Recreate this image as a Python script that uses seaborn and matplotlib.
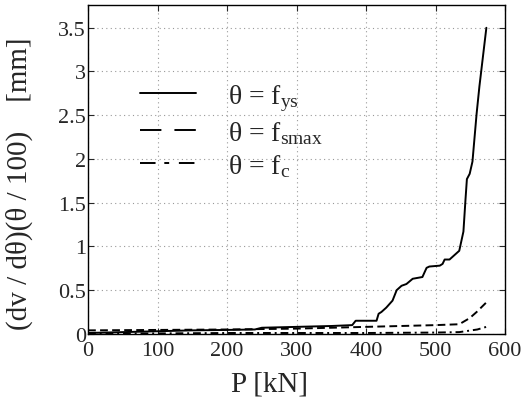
import numpy as np
import pandas as pd
import seaborn as sns
import matplotlib
matplotlib.use("Agg")
import matplotlib.pyplot as plt
from matplotlib.lines import Line2D

# data
P_ys = [0, 50, 100, 150, 200, 240, 250, 300, 350, 380, 385, 415, 418, 422, 429, 438, 444, 451, 458, 467,
        481, 487, 491, 506, 510, 513, 520, 534, 540, 543, 545, 549, 553, 559, 563, 573]
v_ys = [0.01, 0.02, 0.03, 0.04, 0.045, 0.05, 0.07, 0.08, 0.09, 0.10, 0.15, 0.15, 0.23, 0.25, 0.30, 0.38,
        0.50, 0.55, 0.57, 0.63, 0.65, 0.755, 0.77, 0.78, 0.80, 0.85, 0.85, 0.95, 1.17, 1.54, 1.77, 1.83,
        1.97, 2.52, 2.83, 3.50]
P_smax = [0, 100, 200, 300, 400, 500, 534, 549, 559, 573]
v_smax = [0.04, 0.045, 0.05, 0.06, 0.08, 0.10, 0.11, 0.18, 0.25, 0.36]
P_c = [0, 100, 200, 300, 400, 500, 534, 560, 573]
v_c = [0.005, 0.005, 0.01, 0.01, 0.01, 0.015, 0.02, 0.05, 0.08]

labels = ['θ = f$_{\\mathrm{ys}}$', 'θ = f$_{\\mathrm{smax}}$', 'θ = f$_{\\mathrm{c}}$']
xticks = [0, 100, 200, 300, 400, 500, 600]
yticks = [0, 0.5, 1, 1.5, 2, 2.5, 3, 3.5]
ytick_labels = ['0', '0.5', '1', '1.5', '2', '2.5', '3', '3.5']

sns.set_style("ticks")
plt.rcParams['font.family'] = ['Liberation Serif', 'DejaVu Serif']
plt.rcParams['mathtext.fontset'] = 'custom'
plt.rcParams['mathtext.rm'] = 'Liberation Serif'
plt.rcParams['mathtext.it'] = 'Liberation Serif:italic'

fig = plt.figure(figsize=(5.24, 4.02), dpi=100)
ax = fig.add_axes([0.168, 0.167, 0.796, 0.818])

lw = 1.4
sns.lineplot(x=P_ys, y=v_ys, ax=ax, color='black', lw=lw, sort=False)
sns.lineplot(x=P_smax, y=v_smax, ax=ax, color='black', lw=lw, sort=False,
             linestyle=(0, (4, 2.2)))
sns.lineplot(x=P_c, y=v_c, ax=ax, color='black', lw=lw, sort=False,
             linestyle=(0, (4, 2, 1, 2)))

ax.set_xlim(0, 600)
ax.set_ylim(0, 3.76)
ax.set_xticks(xticks)
ax.set_yticks(yticks)
ax.set_yticklabels(ytick_labels)
ax.tick_params(direction='in', top=True, right=True, length=4, labelsize=16, width=0.8)
ax.tick_params(axis='x', pad=5)
ax.tick_params(axis='y', pad=1.5)
ax.grid(True, linestyle=(0, (1, 3)), color='#999999', lw=0.8)
for s in ax.spines.values():
    s.set_linewidth(1.0)
    s.set_color('black')

ax.set_xlabel('P [kN]', fontsize=21)
ax.set_ylabel('(dv / dθ)(θ / 100)    [mm]', fontsize=21)
ax.xaxis.set_label_coords(0.436, -0.112)
ax.yaxis.set_label_coords(-0.132, 0.459)

handles = [
    Line2D([], [], color='black', lw=lw),
    Line2D([], [], color='black', lw=lw, linestyle=(0, (11, 6.7))),
    Line2D([], [], color='black', lw=lw, linestyle=(0, (8, 4.5, 2.5, 5, 8))),
]
ax.legend(handles, labels, loc='upper left', bbox_to_anchor=(0.099, 0.80), frameon=False, fontsize=20,
          handlelength=2.0, handletextpad=1.15, labelspacing=0.22, borderaxespad=0)

fig.savefig('out.png', dpi=100)
